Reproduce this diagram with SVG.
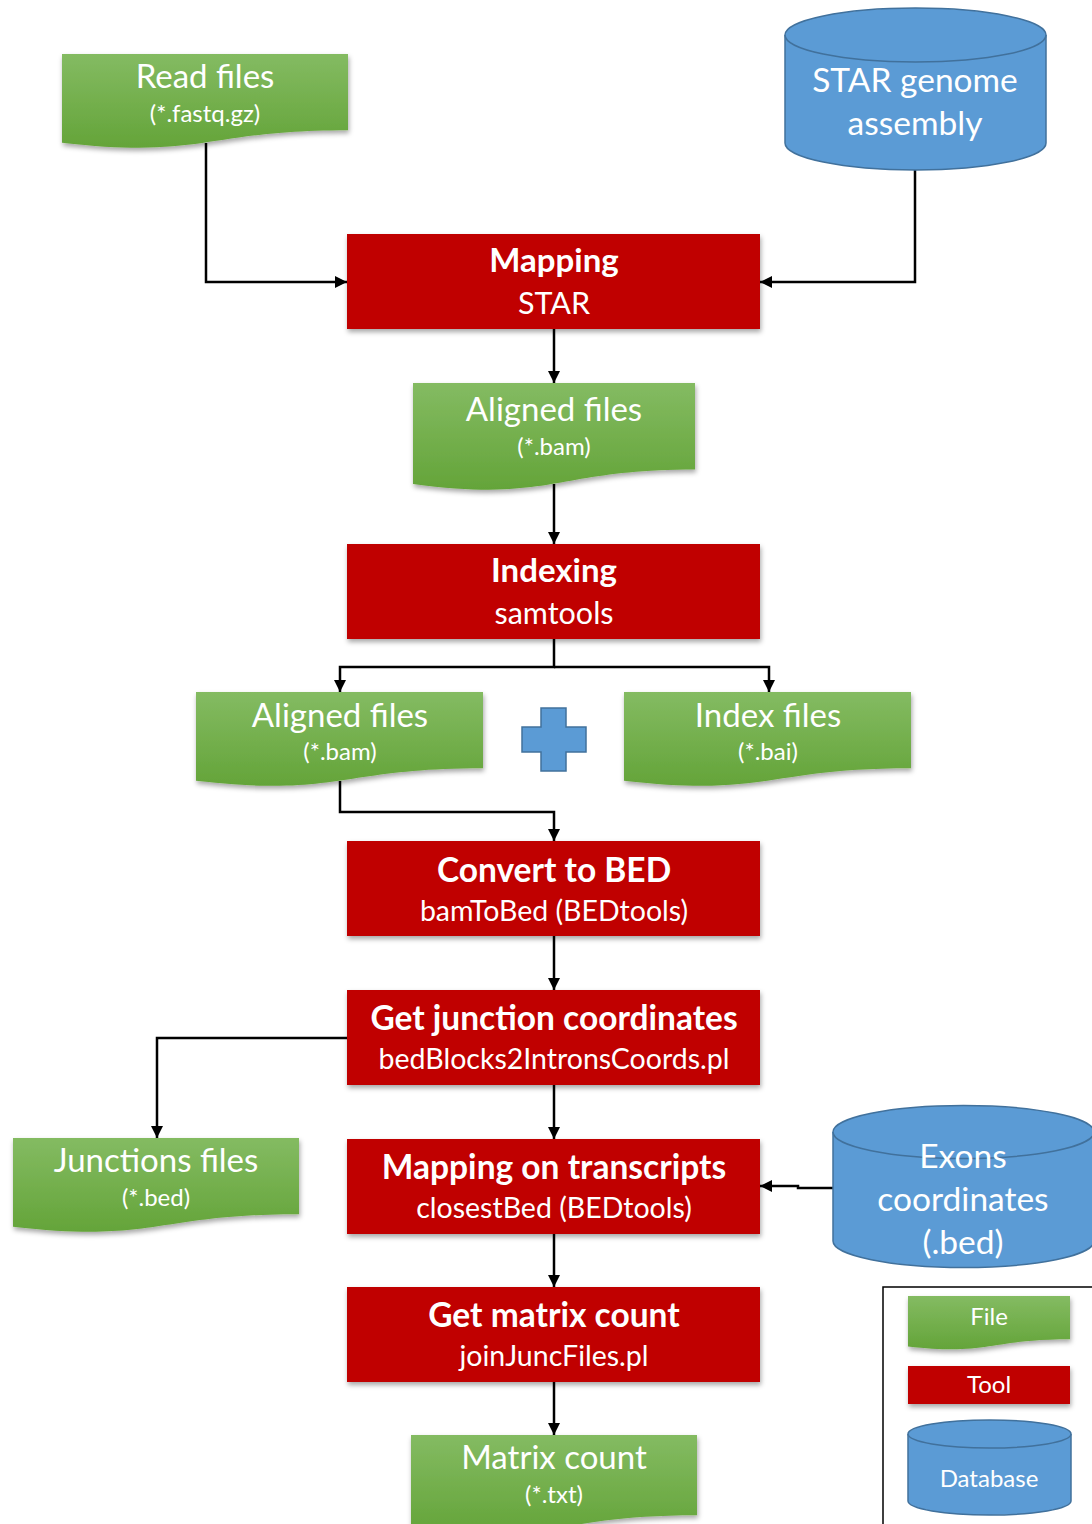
<svg xmlns="http://www.w3.org/2000/svg" width="1092" height="1524" viewBox="0 0 1092 1524">
<style>
.file{fill:url(#gGreen);filter:url(#sh)}
.tool{fill:#c00000;filter:url(#sh)}
.db{fill:#5b9bd5;stroke:#41719c;stroke-width:1.5}
.t{font-family:Lato,"Open Sans","Liberation Sans",sans-serif;fill:#fff;text-anchor:middle}
.b{font-weight:bold}
.conn{fill:none;stroke:#000;stroke-width:2.5}
</style>
<defs>
<linearGradient id="gGreen" x1="0" y1="0" x2="0" y2="1">
<stop offset="0" stop-color="#84bb62"/>
<stop offset="1" stop-color="#64a439"/>
</linearGradient>
<filter id="sh" x="-10%" y="-10%" width="120%" height="130%">
<feDropShadow dx="1" dy="3" stdDeviation="2.5" flood-color="#000" flood-opacity="0.35"/>
</filter>
<marker id="arr" markerUnits="userSpaceOnUse" markerWidth="12" markerHeight="12" viewBox="0 0 12 12" refX="12" refY="6" orient="auto">
<path d="M0 0 L12 6 L0 12 Z" fill="#000"/>
</marker>
</defs>
<rect width="1092" height="1524" fill="#fff"/>

<g id="connectors">
<path class="conn" d="M206 143 V282 H347" marker-end="url(#arr)"/>
<path class="conn" d="M915 170 V282 H760" marker-end="url(#arr)"/>
<path class="conn" d="M554 329 V383" marker-end="url(#arr)"/>
<path class="conn" d="M554 484 V544" marker-end="url(#arr)"/>
<path class="conn" d="M554 639 V667 H340 V692" marker-end="url(#arr)"/>
<path class="conn" d="M554 667 H769 V692" marker-end="url(#arr)"/>
<path class="conn" d="M340 781 V812 H554 V841" marker-end="url(#arr)"/>
<path class="conn" d="M554 936 V990" marker-end="url(#arr)"/>
<path class="conn" d="M347 1038 H157 V1138" marker-end="url(#arr)"/>
<path class="conn" d="M554 1085 V1139" marker-end="url(#arr)"/>
<path class="conn" d="M833 1188 H798 V1186 H760" marker-end="url(#arr)"/>
<path class="conn" d="M554 1234 V1287" marker-end="url(#arr)"/>
<path class="conn" d="M554 1382 V1435" marker-end="url(#arr)"/>
</g>

<g id="read-files">
<path class="file" d="M62 54 H348 V130.2 C205 130.2 205 159.2 62 142.7 Z"/>
<text class="t" x="205" y="88" font-size="33">Read files</text>
<text class="t" x="205" y="122" font-size="24">(*.fastq.gz)</text>
</g>

<g id="star-genome">
<path class="db" d="M785 35 V143 A130.5 27 0 0 0 1046 143 V35"/>
<ellipse class="db" cx="915.5" cy="35" rx="130.5" ry="27"/>
<text class="t" x="915" y="92" font-size="33.5">STAR genome</text>
<text class="t" x="915" y="135" font-size="33.5">assembly</text>
</g>

<g id="mapping">
<rect class="tool" x="347" y="234" width="413" height="95"/>
<text class="t b" x="554" y="272" font-size="33">Mapping</text>
<text class="t" x="554" y="314" font-size="30.5">STAR</text>
</g>

<g id="aligned-files-1">
<path class="file" d="M413 383 H695 V469.6 C554 469.6 554 502.6 413 483.9 Z"/>
<text class="t" x="554" y="421" font-size="33">Aligned files</text>
<text class="t" x="554" y="455" font-size="24">(*.bam)</text>
</g>

<g id="indexing">
<rect class="tool" x="347" y="544" width="413" height="95"/>
<text class="t b" x="554" y="582" font-size="33">Indexing</text>
<text class="t" x="554" y="624" font-size="30.5">samtools</text>
</g>

<g id="aligned-files-2">
<path class="file" d="M196 692 H483 V768.2 C339.5 768.2 339.5 797.2 196 780.7 Z"/>
<text class="t" x="340" y="727" font-size="33">Aligned files</text>
<text class="t" x="340" y="760" font-size="24">(*.bam)</text>
</g>

<g id="plus">
<polygon points="541,708 566,708 566,727 586,727 586,752 566,752 566,771 541,771 541,752 522,752 522,727 541,727" fill="#5b9bd5" stroke="#41719c" stroke-width="1.5"/>
</g>

<g id="index-files">
<path class="file" d="M624 692 H911 V768.2 C767.5 768.2 767.5 797.2 624 780.7 Z"/>
<text class="t" x="768" y="727" font-size="33">Index files</text>
<text class="t" x="768" y="760" font-size="24">(*.bai)</text>
</g>

<g id="convert-bed">
<rect class="tool" x="347" y="841" width="413" height="95"/>
<text class="t b" x="554" y="882" font-size="33.5">Convert to BED</text>
<text class="t" x="554" y="921" font-size="28.5">bamToBed (BEDtools)</text>
</g>

<g id="junction-coords">
<rect class="tool" x="347" y="990" width="413" height="95"/>
<text class="t b" x="554" y="1030" font-size="33.5">Get junction coordinates</text>
<text class="t" x="554" y="1069" font-size="28.5">bedBlocks2IntronsCoords.pl</text>
</g>

<g id="junctions-files">
<path class="file" d="M13 1138 H299 V1214.2 C156 1214.2 156 1243.2 13 1226.7 Z"/>
<text class="t" x="156" y="1172" font-size="33">Junctions files</text>
<text class="t" x="156" y="1206" font-size="24">(*.bed)</text>
</g>

<g id="mapping-transcripts">
<rect class="tool" x="347" y="1139" width="413" height="95"/>
<text class="t b" x="554" y="1179" font-size="33.5">Mapping on transcripts</text>
<text class="t" x="554" y="1218" font-size="28.5">closestBed (BEDtools)</text>
</g>

<g id="exons">
<path class="db" d="M833 1132 V1241 A130.5 26.5 0 0 0 1094 1241 V1132"/>
<ellipse class="db" cx="963.5" cy="1132" rx="130.5" ry="26.5"/>
<text class="t" x="963" y="1168" font-size="33.5">Exons</text>
<text class="t" x="963" y="1211" font-size="33.5">coordinates</text>
<text class="t" x="963" y="1254" font-size="33.5">(.bed)</text>
</g>

<g id="matrix-count-tool">
<rect class="tool" x="347" y="1287" width="413" height="95"/>
<text class="t b" x="554" y="1327" font-size="33.5">Get matrix count</text>
<text class="t" x="554" y="1366" font-size="28.5">joinJuncFiles.pl</text>
</g>

<g id="matrix-count">
<path class="file" d="M411 1435 H697 V1515.2 C554 1515.2 554 1545.8 411 1528.4 Z"/>
<text class="t" x="554" y="1469" font-size="33">Matrix count</text>
<text class="t" x="554" y="1503" font-size="24">(*.txt)</text>
</g>

<g id="legend">
<rect x="883" y="1287" width="220" height="260" fill="none" stroke="#000" stroke-width="1.5"/>
<path class="file" d="M908 1296 H1070 V1339.3 C989 1339.3 989 1355.8 908 1346.4 Z"/>
<text class="t" x="989" y="1325" font-size="24">File</text>
<rect class="tool" x="908" y="1366" width="162" height="38"/>
<text class="t" x="989" y="1393" font-size="24">Tool</text>
<path class="db" d="M908 1434 V1501 A81.5 14 0 0 0 1071 1501 V1434"/>
<ellipse class="db" cx="989.5" cy="1434" rx="81.5" ry="14"/>
<text class="t" x="989" y="1487" font-size="24">Database</text>
</g>
</svg>
